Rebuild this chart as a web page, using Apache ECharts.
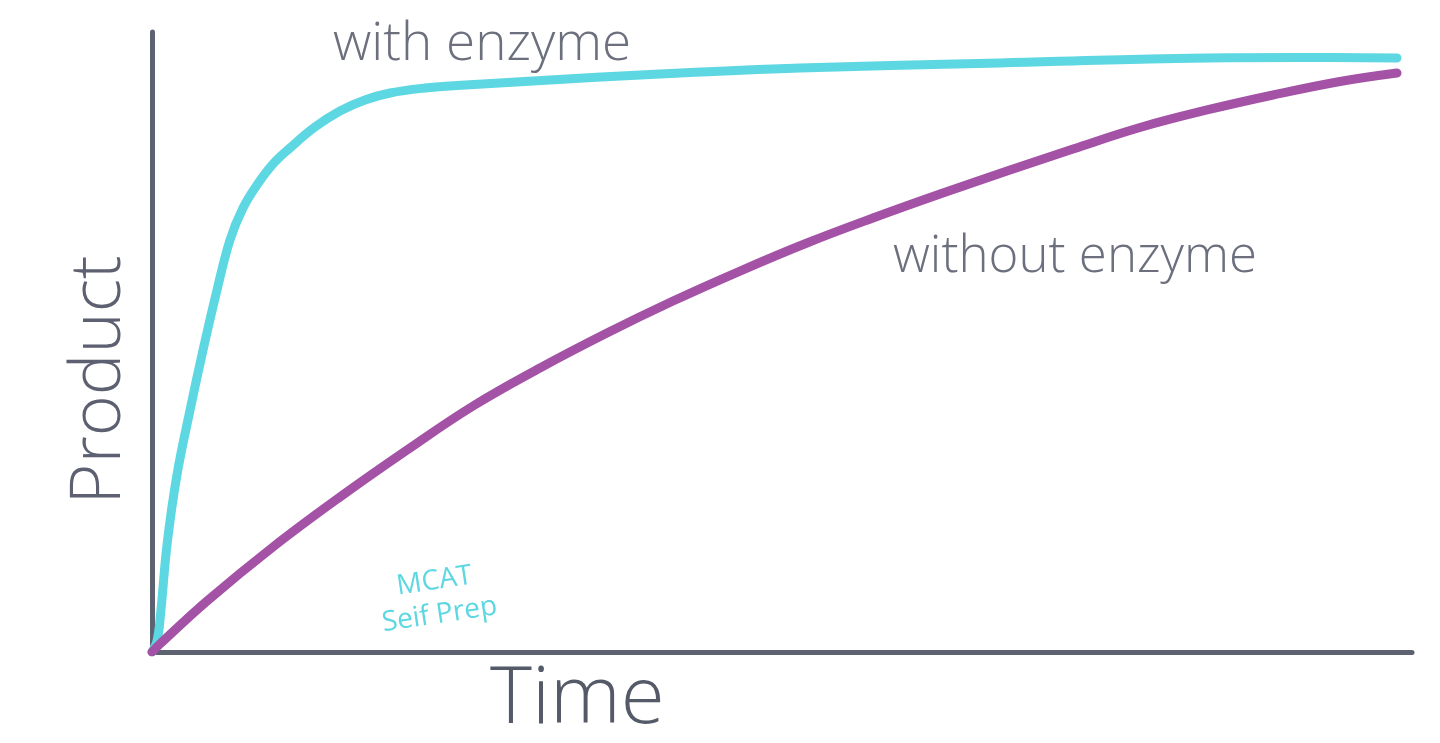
<!DOCTYPE html>
<html>
<head>
<meta charset="utf-8">
<script src="https://cdn.jsdelivr.net/npm/echarts@6/dist/echarts.min.js"></script>
<style>
html,body{margin:0;padding:0;background:#fff;}
#chart{width:1440px;height:743px;}
</style>
</head>
<body>
<div id="chart"></div>
<script>
// Time (arbitrary units, 0-100) and product (0-100)
const withEnzymeTime = [0, 0.40, 0.71, 1.19, 1.98, 3.02, 4.05, 5.16, 6.19, 7.22, 8.33, 9.60, 10.95, 12.94, 14.92, 16.90, 18.89, 21.67, 24.21, 30.24, 40.32, 51.43, 67.30, 79.21, 91.11, 98.81];
const withEnzymeProduct = [0, 1.77, 6.77, 17.26, 28.55, 39.03, 48.71, 58.39, 66.45, 71.61, 75.32, 78.71, 81.29, 84.68, 87.26, 89.03, 90.16, 90.97, 91.37, 92.10, 93.23, 94.19, 95.0, 95.65, 95.89, 95.81];
const withoutEnzymeTime = [0, 0.63, 4.37, 9.60, 14.92, 20.24, 25.48, 30.79, 36.11, 41.35, 46.67, 51.98, 57.22, 62.54, 67.86, 73.10, 78.41, 83.73, 88.97, 94.29, 98.81];
const withoutEnzymeProduct = [0, 1.29, 8.23, 16.94, 25.0, 32.58, 39.68, 45.81, 51.45, 56.61, 61.45, 65.97, 70.0, 73.87, 77.58, 81.13, 84.60, 87.42, 89.84, 92.02, 93.39];
const seriesNames = ['with enzyme', 'without enzyme'];
const axisNames = ['Time', 'Product'];
const watermark = ['MCAT', 'Seif Prep'];

const zip = (xs, ys) => xs.map((x, i) => [x, ys[i]]);
const chart = echarts.init(document.getElementById('chart'));
const axisColor = '#5d6271';
const textColor = '#6c6f7d';
const font = '"Open Sans", "DejaVu Sans", sans-serif';
const baseAxis = {
  type: 'value', min: 0, max: 100,
  axisLine: { show: true, lineStyle: { color: axisColor, width: 5 } },
  axisTick: { show: false }, axisLabel: { show: false }, splitLine: { show: false }
};
chart.setOption({
  backgroundColor: '#ffffff',
  animation: false,
  grid: { left: 152, right: 28, top: 32, bottom: 91 },
  xAxis: Object.assign({}, baseAxis),
  yAxis: Object.assign({}, baseAxis),
  series: [
    { name: seriesNames[0], type: 'line', data: zip(withEnzymeTime, withEnzymeProduct), smooth: 0.4, symbol: 'none',
      lineStyle: { color: '#5dd7e1', width: 9, cap: 'round', join: 'round' }, z: 3 },
    { name: seriesNames[1], type: 'line', data: zip(withoutEnzymeTime, withoutEnzymeProduct), smooth: 0.4, symbol: 'none',
      lineStyle: { color: '#a452a6', width: 9, cap: 'round', join: 'round' }, z: 4 }
  ],
  graphic: [
    { type: 'text', left: 333, top: 18, style: { text: seriesNames[0], fill: textColor, font: '300 53px ' + font } },
    { type: 'text', left: 893, top: 232, style: { text: seriesNames[1], fill: textColor, font: '300 51px ' + font } },
    { type: 'text', left: 490, top: 660, style: { text: axisNames[0], fill: '#555a68', font: '300 80px ' + font } },
    { type: 'text', x: 100, y: 380, rotation: Math.PI / 2, style: { text: axisNames[1], fill: '#5d6070', font: '300 70px ' + font, align: 'center', verticalAlign: 'middle' } },
    { type: 'text', x: 437, y: 598, rotation: 0.15, style: { text: watermark.join('\n'), fill: '#5dd7e1', font: '28px ' + font, align: 'center', verticalAlign: 'middle', lineHeight: 34 } }
  ]
});
</script>
</body>
</html>
